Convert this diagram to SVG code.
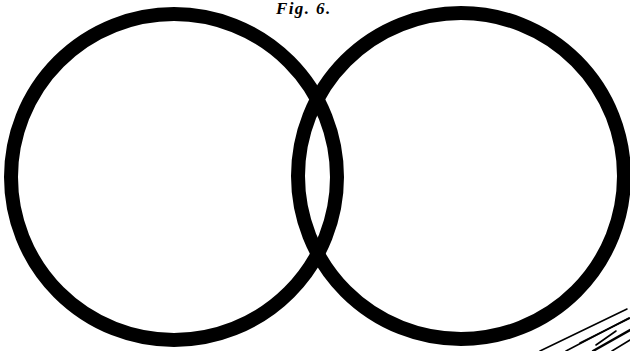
<svg xmlns="http://www.w3.org/2000/svg" width="630" height="351" viewBox="0 0 630 351">
<style>
.ring{fill:none;stroke:#000;stroke-width:14}
.hatch{stroke:#000;stroke-width:1.6;fill:none;stroke-linecap:round}
.lbl{font-family:"Liberation Serif","DejaVu Serif",serif;font-weight:bold;font-style:italic;font-size:17px;letter-spacing:1.4px;fill:#000}
</style>
<rect width="630" height="351" fill="#fff"/>
<g id="left-circle"><circle class="ring" cx="174" cy="177" r="163"/></g>
<g id="right-circle"><circle class="ring" cx="461" cy="176" r="163"/></g>
<g id="label"><text class="lbl" x="276" y="14">Fig. 6.</text></g>
<g id="hatching">
<path class="hatch" d="M540 351 L627 309"/>
<path class="hatch" d="M566 351 L629 318"/>
<path class="hatch" d="M580 343 L630 318"/>
<path class="hatch" d="M593 351 L630 330" style="stroke-width:2.4"/>
<path class="hatch" d="M612 351 L630 340"/>
<path class="hatch" d="M596 345 L616 331"/>
</g>
</svg>
